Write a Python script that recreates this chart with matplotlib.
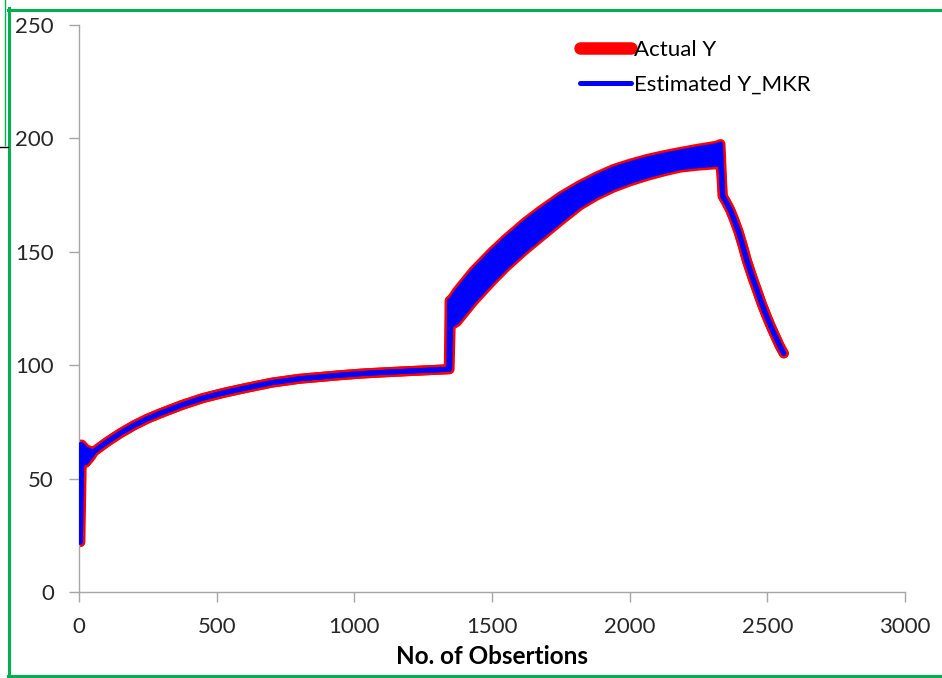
import matplotlib
matplotlib.use("Agg")
from matplotlib import pyplot as plt
from matplotlib.lines import Line2D

# envelope of the series: where low == high the curve is a single line
obs_x = [0, 3, 5, 10, 25, 45, 55, 100, 150, 200, 250, 300, 375, 450, 525, 600, 700,
         800, 950, 1025, 1100, 1200, 1340, 1343, 1346, 1350, 1372, 1432, 1500, 1553,
         1620, 1674, 1750, 1820, 1880, 1941, 2000, 2062, 2120, 2183, 2250, 2316, 2330,
         2338, 2350, 2365, 2380, 2395, 2410, 2425, 2445, 2462, 2480, 2498, 2515, 2530,
         2545, 2560]
y_low = [22, 22, 22, 57, 57, 60, 62, 66, 70, 73.5, 76.5, 79, 82.5, 85.5, 87.8, 89.8, 92.3,
         94, 95.6, 96.3, 96.8, 97.4, 98.2, 98.2, 98.2, 117.5, 119, 128, 137, 143.5,
         150.8, 156.2, 163.8, 170.5, 174.8, 178.3, 181, 183.4, 185.3, 187.1, 188, 188.6, 188.8,
         174.5, 172, 168.5, 164, 159, 153, 146.4, 139, 133.2, 127, 121.4, 116.5, 112.5,
         108.5, 105.2]
y_high = [22, 22, 65, 65, 63, 62, 62, 66, 70, 73.5, 76.5, 79, 82.5, 85.5, 87.8, 89.8, 92.3,
          94, 95.6, 96.3, 96.8, 97.4, 98.2, 98.2, 128.5, 128.5, 132.5, 141.5, 150, 156,
          163, 168, 174.5, 179.5, 183.2, 186.5, 188.8, 190.9, 192.5, 194, 195.5, 196.8, 197.5,
          174.5, 172, 168.5, 164, 159, 153, 146.4, 139, 133.2, 127, 121.4, 116.5, 112.5,
          108.5, 105.2]

x_ticks = [0, 500, 1000, 1500, 2000, 2500, 3000]
y_ticks = [0, 50, 100, 150, 200, 250]

W, H = 942, 678
plt.rcParams['font.family'] = ['Lato', 'DejaVu Sans']
fig = plt.figure(figsize=(W / 100, H / 100), dpi=100)
ax = fig.add_axes([79 / W, 1 - 592 / H, (905 - 79) / W, (592 - 25) / H])

red = '#ff0000'
blue = '#0000ff'
style = dict(solid_capstyle='round', solid_joinstyle='round')

# actual Y (thick red) underneath, estimated (blue) on top
ax.fill_between(obs_x, y_low, y_high, color=red, lw=0, zorder=2)
ax.plot(obs_x, y_low, color=red, lw=7.2, zorder=2, **style)
ax.plot(obs_x, y_high, color=red, lw=7.2, zorder=2, **style)
ax.fill_between(obs_x, y_low, y_high, color=blue, lw=0, zorder=3)
ax.plot(obs_x, y_low, color=blue, lw=3.6, zorder=4, **style)
ax.plot(obs_x, y_high, color=blue, lw=3.6, zorder=4, **style)

ax.set_xlim(0, 3000)
ax.set_ylim(0, 250)
ax.set_xticks(x_ticks)
ax.set_yticks(y_ticks)
for s in ['top', 'right']:
    ax.spines[s].set_visible(False)
for s in ['left', 'bottom']:
    ax.spines[s].set_color('#a6a6a6')
    ax.spines[s].set_linewidth(1)
ax.tick_params(axis='both', direction='out', length=7, width=1, color='#a6a6a6',
               labelsize=16, labelcolor='#262626')
ax.tick_params(axis='y', pad=11)
ax.tick_params(axis='x', pad=11)
ax.set_xlabel('No. of Obsertions', fontsize=17.5, fontweight='bold', color='#000000', labelpad=6)

handles = [Line2D([], [], color=red, lw=9, solid_capstyle='round'),
           Line2D([], [], color=blue, lw=3.6, solid_capstyle='round')]
ax.legend(handles, ['Actual Y', 'Estimated Y_MKR'], loc='upper left',
          bbox_to_anchor=(580 / W, 1 - 40 / H), bbox_transform=fig.transFigure,
          frameon=False, fontsize=16, handlelength=2.3, handletextpad=0.15,
          labelspacing=0.65, borderaxespad=0, borderpad=0)

# green frame around the chart area
green = '#00b050'
def fline(xs, ys, color, lw):
    fig.add_artist(Line2D([x / W for x in xs], [1 - y / H for y in ys],
                          transform=fig.transFigure, color=color, lw=lw))

fline([8, W], [9.5, 9.5], green, 2.2)
fline([8.5, 8.5], [8, H], green, 2.2)
fline([8, W], [676, 676], green, 2.2)
fline([5, 5], [0, 145], green, 1.0)
fline([0, 8], [146.5, 146.5], '#000000', 1.0)

fig.savefig('out.png', dpi=100)
